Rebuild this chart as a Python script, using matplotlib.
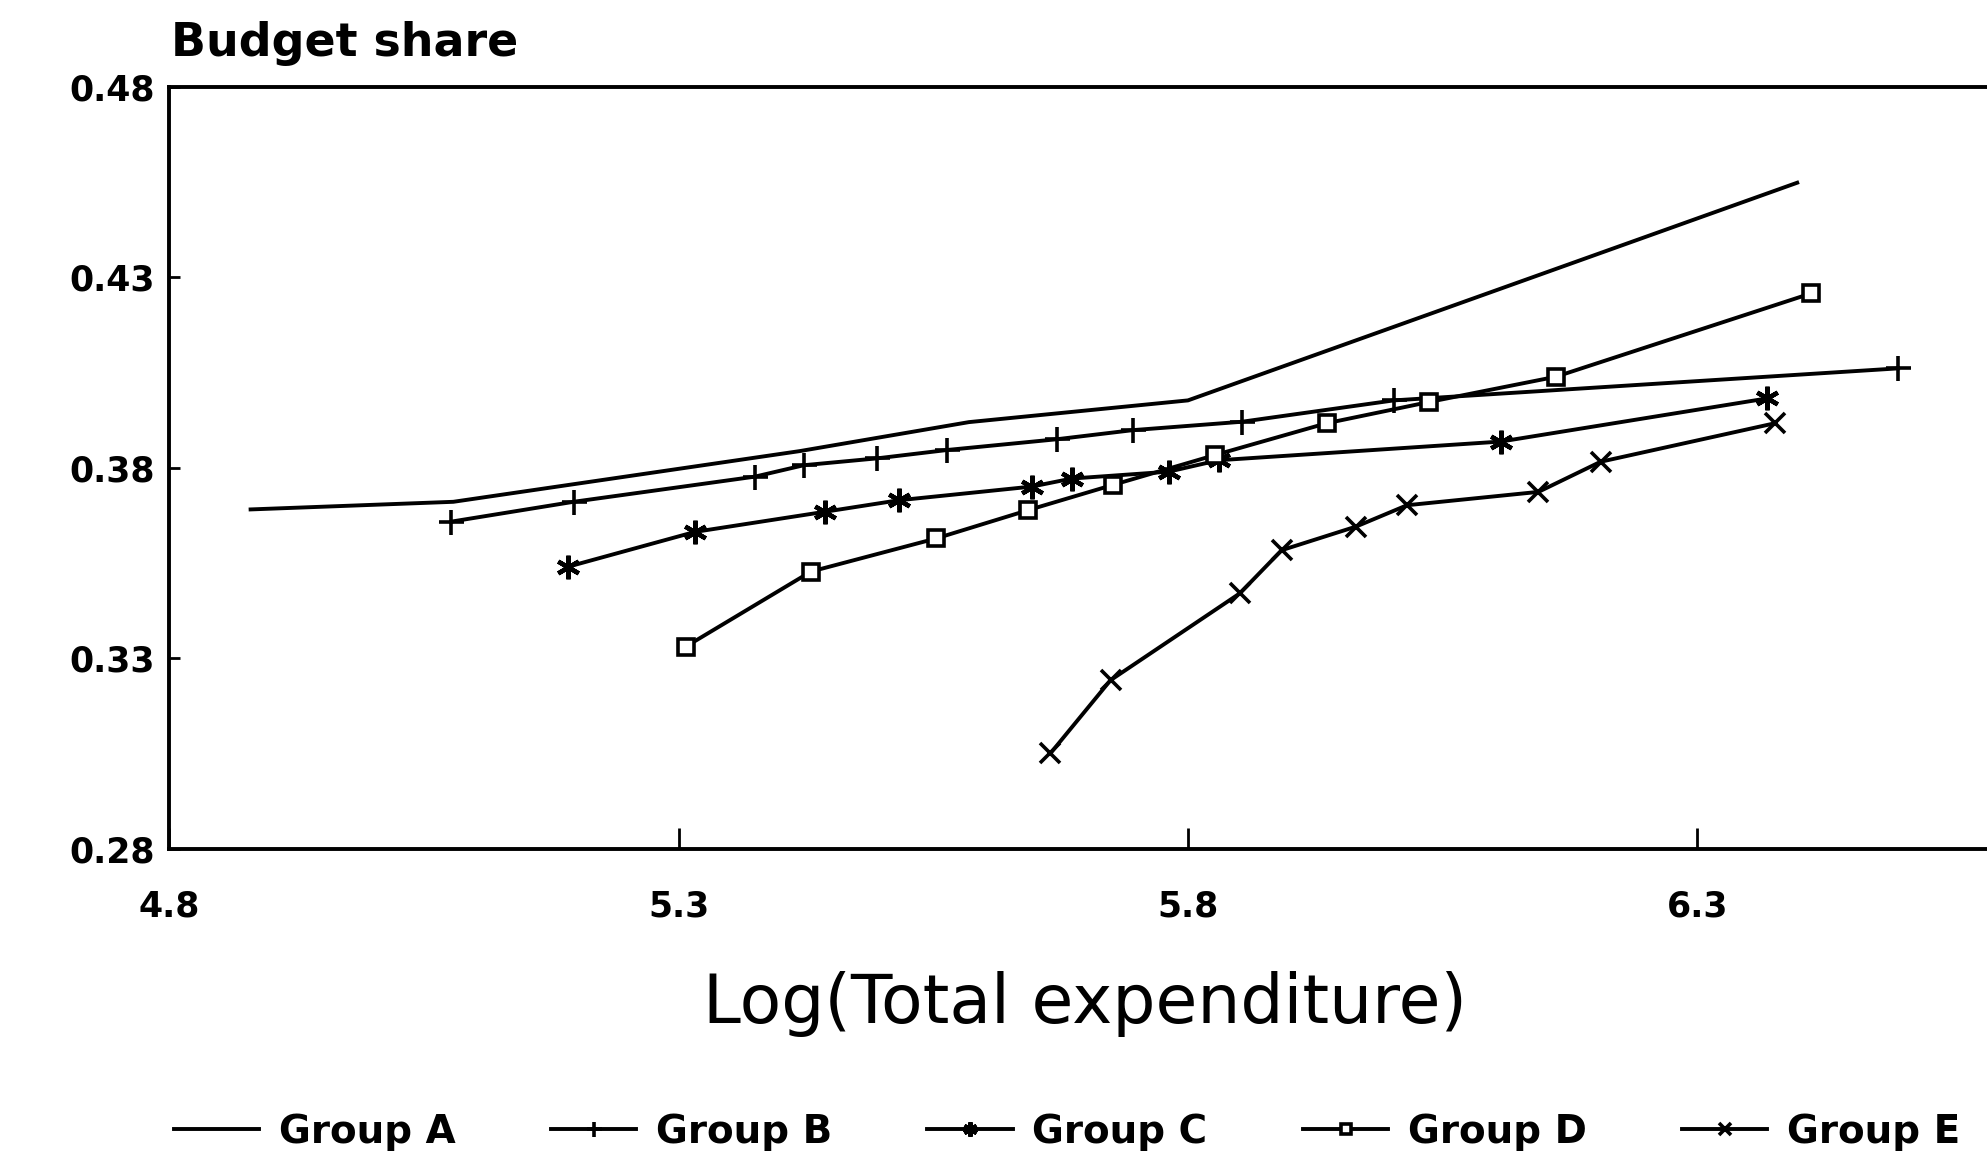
import numpy as np
import matplotlib
matplotlib.use("Agg")
import matplotlib.pyplot as plt

# budget share by log total expenditure, five household groups
a_x = [4.880, 5.079, 5.419, 5.585, 5.800, 6.398]
a_y = [0.3691, 0.3711, 0.3844, 0.3920, 0.3977, 0.4548]

b_x = [5.077, 5.197, 5.375, 5.423, 5.495, 5.564, 5.671, 5.746, 5.853, 6.002, 6.497]
b_y = [0.3659, 0.3711, 0.3777, 0.3807, 0.3825, 0.3847, 0.3875, 0.3899, 0.3921, 0.3977, 0.4061]

c_x = [5.192, 5.316, 5.444, 5.516, 5.647, 5.686, 5.781, 5.830, 6.107, 6.368]
c_y = [0.3541, 0.3632, 0.3685, 0.3715, 0.3751, 0.3772, 0.3790, 0.3820, 0.3869, 0.3982]

d_x = [5.307, 5.430, 5.553, 5.643, 5.726, 5.827, 5.936, 6.037, 6.161, 6.412]
d_y = [0.3331, 0.3528, 0.3615, 0.3689, 0.3755, 0.3834, 0.3917, 0.3973, 0.4039, 0.4258]

e_x = [5.665, 5.724, 5.851, 5.892, 5.965, 6.015, 6.144, 6.205, 6.376]
e_y = [0.3051, 0.3243, 0.3471, 0.3584, 0.3646, 0.3702, 0.3737, 0.3816, 0.3917]

groups = ["Group A", "Group B", "Group C", "Group D", "Group E"]
x_ticks = [4.8, 5.3, 5.8, 6.3]
y_ticks = [0.28, 0.33, 0.38, 0.43, 0.48]

plt.rcParams['font.family'] = 'DejaVu Sans'

fig = plt.figure(figsize=(19.87, 11.71), dpi=100)
ax_w = 0.93
ax = fig.add_axes([0.0851, 0.2749, ax_w, 0.6511])

lw = 2.8
ax.plot(a_x, a_y, color='black', lw=lw, label=groups[0])
ax.plot(b_x, b_y, color='black', lw=lw, marker='+', ms=18, mew=2.6, label=groups[1])
ax.plot(c_x, c_y, color='black', lw=lw, marker=(6, 2, 0), ms=17, mew=3.2, label=groups[2])
ax.plot(d_x, d_y, color='black', lw=lw, marker='s', ms=12, mew=2.6, mfc='white', label=groups[3])
ax.plot(e_x, e_y, color='black', lw=lw, marker='x', ms=15, mew=2.6, label=groups[4])

# x range: 0.5 units every 402 px of the 1568 px wide frame
ax.set_xlim(4.8, 4.8 + ax_w * 1568 / 804)
ax.set_ylim(0.28, 0.48)
ax.set_xticks(x_ticks)
ax.set_yticks(y_ticks)
ax.set_xticklabels([f"{v:.1f}" for v in x_ticks], fontsize=25, fontweight='bold')
ax.set_yticklabels([f"{v:.2f}" for v in y_ticks], fontsize=25, fontweight='bold')
ax.tick_params(axis='x', direction='in', length=15, width=2, pad=29)
ax.tick_params(axis='y', direction='in', length=8, width=2, pad=10)
for s in ax.spines.values():
    s.set_linewidth(2.8)

fig.text(135 / 1568, 1 - 34 / 924, "Budget share", fontsize=33, fontweight='bold',
         ha='left', va='center')
fig.text(856 / 1568, 1 - 792 / 924, "Log(Total expenditure)", fontsize=49,
         ha='center', va='center')

fig.legend(loc='center', bbox_to_anchor=(842 / 1568, 1 - 893 / 924), ncol=5,
           frameon=False, prop={'size': 28, 'weight': 'bold'},
           handlelength=2.2, handletextpad=0.5, columnspacing=2.45, markerscale=0.6)

fig.savefig("out.png", dpi=100, facecolor='white')
